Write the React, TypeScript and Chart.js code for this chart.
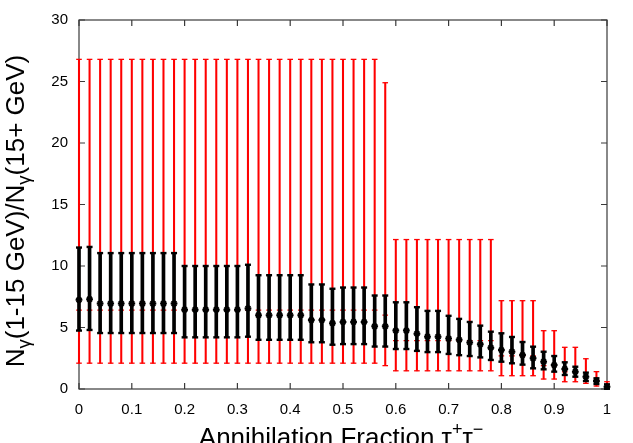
import React, { useEffect, useRef } from "react";
import { Chart, registerables } from "chart.js";

Chart.register(...registerables);

const fractions = [
  0.0, 0.02, 0.04, 0.06, 0.08, 0.1, 0.12, 0.14, 0.16, 0.18,
  0.2, 0.22, 0.24, 0.26, 0.28, 0.3, 0.32, 0.34, 0.36, 0.38,
  0.4, 0.42, 0.44, 0.46, 0.48, 0.5, 0.52, 0.54, 0.56, 0.58,
  0.6, 0.62, 0.64, 0.66, 0.68, 0.7, 0.72, 0.74, 0.76, 0.78,
  0.8, 0.82, 0.84, 0.86, 0.88, 0.9, 0.92, 0.94, 0.96, 0.98, 1.0,
];

const blackCenter = [
  7.25, 7.3, 6.95, 6.95, 6.95, 6.95, 6.95, 6.95, 6.95, 6.95,
  6.45, 6.45, 6.45, 6.45, 6.45, 6.45, 6.55, 6.0, 6.0, 6.0,
  6.0, 6.0, 5.6, 5.6, 5.35, 5.45, 5.45, 5.45, 5.1, 5.1,
  4.75, 4.75, 4.5, 4.25, 4.25, 4.1, 4.0, 3.78, 3.63, 3.36,
  3.17, 3.03, 2.76, 2.49, 2.22, 1.95, 1.63, 1.41, 1.0, 0.65, 0.19,
];
const blackHigh = [
  11.5, 11.55, 11.05, 11.05, 11.05, 11.05, 11.05, 11.05, 11.05, 11.05,
  10.0, 10.0, 10.0, 10.0, 10.0, 10.0, 10.1, 9.25, 9.25, 9.25,
  9.25, 9.25, 8.5, 8.5, 8.15, 8.25, 8.25, 8.25, 7.6, 7.6,
  7.05, 7.05, 6.65, 6.35, 6.35, 5.95, 5.7, 5.45, 5.15, 4.66,
  4.53, 4.23, 3.82, 3.44, 3.03, 2.68, 2.17, 1.81, 1.33, 0.87, 0.38,
];
const blackLow = [
  4.75, 4.8, 4.55, 4.55, 4.55, 4.55, 4.55, 4.55, 4.55, 4.55,
  4.2, 4.2, 4.2, 4.2, 4.2, 4.2, 4.25, 4.0, 4.0, 4.0,
  4.0, 4.0, 3.8, 3.8, 3.6, 3.65, 3.65, 3.65, 3.45, 3.45,
  3.25, 3.25, 3.1, 3.0, 3.0, 2.85, 2.75, 2.68, 2.57, 2.36,
  2.22, 2.09, 1.98, 1.68, 1.6, 1.41, 1.14, 1.0, 0.65, 0.41, 0.02,
];

const redCenter = [
  6.42, 6.42, 6.42, 6.42, 6.42, 6.42, 6.42, 6.42, 6.42, 6.42,
  6.42, 6.42, 6.42, 6.42, 6.42, 6.42, 6.42, 6.42, 6.42, 6.42,
  6.42, 6.42, 6.42, 6.42, 6.42, 6.42, 6.42, 6.42, 6.42, 6.0,
  3.93, 3.93, 3.93, 3.93, 3.93, 3.93, 3.93, 3.93, 3.93, 3.93,
  2.7, 2.7, 2.7, 2.7, 1.9, 1.9, 1.4, 1.4, 1.0, 0.65, 0.2,
];
const redHigh = [
  26.8, 26.8, 26.8, 26.8, 26.8, 26.8, 26.8, 26.8, 26.8, 26.8,
  26.8, 26.8, 26.8, 26.8, 26.8, 26.8, 26.8, 26.8, 26.8, 26.8,
  26.8, 26.8, 26.8, 26.8, 26.8, 26.8, 26.8, 26.8, 26.8, 24.9,
  12.15, 12.15, 12.15, 12.15, 12.15, 12.15, 12.15, 12.15, 12.15, 12.15,
  7.18, 7.18, 7.18, 7.18, 4.74, 4.74, 3.39, 3.39, 2.46, 1.41, 0.59,
];
const redLow = [
  2.1, 2.1, 2.1, 2.1, 2.1, 2.1, 2.1, 2.1, 2.1, 2.1,
  2.1, 2.1, 2.1, 2.1, 2.1, 2.1, 2.1, 2.1, 2.1, 2.1,
  2.1, 2.1, 2.1, 2.1, 2.1, 2.1, 2.1, 2.1, 2.1, 1.9,
  1.48, 1.48, 1.48, 1.48, 1.48, 1.48, 1.48, 1.48, 1.48, 1.48,
  1.08, 1.08, 1.08, 1.08, 0.81, 0.81, 0.59, 0.59, 0.46, 0.24, 0.05,
];

const xTicks = [0, 0.1, 0.2, 0.3, 0.4, 0.5, 0.6, 0.7, 0.8, 0.9, 1];
const yTicks = [0, 5, 10, 15, 20, 25, 30];

const FONT = "'Liberation Sans', Arial, Helvetica, sans-serif";

type Part = { text: string; size: number; dy: number };

const yTitleParts: Part[] = [
  { text: "N", size: 26, dy: 0 },
  { text: "γ", size: 18.5, dy: 6 },
  { text: "(1-15 GeV)/N", size: 26, dy: 0 },
  { text: "γ", size: 18.5, dy: 6 },
  { text: "(15+ GeV)", size: 26, dy: 0 },
];
const xTitleParts: Part[] = [
  { text: "Annihilation Fraction τ", size: 26, dy: 0 },
  { text: "+", size: 18, dy: -11 },
  { text: "τ", size: 26, dy: 0 },
  { text: "−", size: 18, dy: -11 },
];

function drawRich(ctx: CanvasRenderingContext2D, parts: Part[]) {
  let total = 0;
  for (const p of parts) {
    ctx.font = `${p.size}px ${FONT}`;
    total += ctx.measureText(p.text).width;
  }
  let cx = -total / 2;
  ctx.textBaseline = "alphabetic";
  ctx.textAlign = "left";
  for (const p of parts) {
    ctx.font = `${p.size}px ${FONT}`;
    ctx.fillText(p.text, cx, p.dy);
    cx += ctx.measureText(p.text).width;
  }
}

const framePlugin = {
  id: "gnuplotFrame",
  beforeDatasetsDraw(chart: any) {
    const { ctx, chartArea: a, scales } = chart;
    const x = scales.x;
    const y = scales.y;
    ctx.save();
    ctx.strokeStyle = "#3a3a3a";
    ctx.lineWidth = 1.2;
    ctx.strokeRect(a.left, a.top, a.right - a.left, a.bottom - a.top);
    ctx.beginPath();
    for (const v of xTicks) {
      const px = x.getPixelForValue(v);
      ctx.moveTo(px, a.bottom);
      ctx.lineTo(px, a.bottom - 6);
      ctx.moveTo(px, a.top);
      ctx.lineTo(px, a.top + 6);
    }
    for (const v of yTicks) {
      const py = y.getPixelForValue(v);
      ctx.moveTo(a.left, py);
      ctx.lineTo(a.left + 6, py);
      ctx.moveTo(a.right, py);
      ctx.lineTo(a.right - 6, py);
    }
    ctx.stroke();
    ctx.restore();
  },
  afterDraw(chart: any) {
    const { ctx, chartArea: a } = chart;
    ctx.save();
    ctx.fillStyle = "#000";
    ctx.translate(24, 211);
    ctx.rotate(-Math.PI / 2);
    drawRich(ctx, yTitleParts);
    ctx.restore();
    ctx.save();
    ctx.fillStyle = "#000";
    ctx.translate((a.left + a.right) / 2 - 2, 446);
    drawRich(ctx, xTitleParts);
    ctx.restore();
  },
};

export default function App() {
  const ref = useRef<HTMLCanvasElement | null>(null);

  useEffect(() => {
    if (!ref.current) return;
    const pts = (arr: number[]) => fractions.map((x, i) => ({ x, y: arr[i] }));
    const range = (lo: number[], hi: number[]) =>
      fractions.map((x, i) => ({ x, y: [lo[i], hi[i]] }));

    const capDs = (arr: number[], color: string, r: number, w: number, order: number) => ({
      type: "line",
      data: pts(arr),
      showLine: false,
      pointStyle: "line",
      pointRadius: r,
      pointHoverRadius: r,
      pointBorderWidth: w,
      pointBorderColor: color,
      borderColor: color,
      backgroundColor: color,
      order,
      clip: false,
    });

    const chart = new Chart(ref.current, {
      type: "bar",
      data: {
        datasets: [
          {
            type: "line",
            data: pts(blackCenter),
            showLine: false,
            pointStyle: "star",
            pointRadius: 3.4,
            pointHoverRadius: 3.4,
            pointBorderWidth: 2,
            pointBorderColor: "#000",
            borderColor: "#000",
            backgroundColor: "#000",
            order: 0,
            clip: false,
          } as any,
          capDs(blackHigh, "#000", 3, 2.4, 0),
          capDs(blackLow, "#000", 3, 2.4, 0),
          {
            type: "bar",
            data: range(blackLow, blackHigh),
            backgroundColor: "#000",
            borderWidth: 0,
            barThickness: 3,
            grouped: false,
            order: 0,
            clip: false,
          } as any,
          {
            type: "line",
            data: pts(redCenter),
            showLine: false,
            pointStyle: "cross",
            pointRadius: 2.8,
            pointHoverRadius: 2.8,
            pointBorderWidth: 1.3,
            pointBorderColor: "#ff0000",
            borderColor: "#ff0000",
            backgroundColor: "#ff0000",
            order: 1,
            clip: false,
          } as any,
          capDs(redHigh, "#ff0000", 2.8, 1.3, 1),
          capDs(redLow, "#ff0000", 2.8, 1.3, 1),
          {
            type: "bar",
            data: range(redLow, redHigh),
            backgroundColor: "#ff0000",
            borderWidth: 0,
            barThickness: 1.4,
            grouped: false,
            order: 1,
            clip: false,
          } as any,
        ],
      },
      options: {
        animation: false,
        responsive: false,
        devicePixelRatio: 1,
        layout: { padding: { top: 20, right: 26, left: 0, bottom: 0 } },
        plugins: {
          legend: { display: false },
          tooltip: { enabled: false },
        },
        scales: {
          x: {
            type: "linear",
            min: 0,
            max: 1,
            offset: false,
            grid: { display: false, drawTicks: false, offset: false },
            border: { display: false },
            afterBuildTicks: (s: any) => {
              s.ticks = xTicks.map((v) => ({ value: v }));
            },
            afterFit: (s: any) => {
              s.height = 54;
            },
            ticks: {
              autoSkip: false,
              maxRotation: 0,
              padding: 12,
              color: "#000",
              font: { family: FONT, size: 15 },
              callback: (v: any) => String(v),
            },
          },
          y: {
            type: "linear",
            min: 0,
            max: 30,
            grid: { display: false, drawTicks: false },
            border: { display: false },
            afterBuildTicks: (s: any) => {
              s.ticks = yTicks.map((v) => ({ value: v }));
            },
            afterFit: (s: any) => {
              s.width = 79;
            },
            ticks: {
              padding: 11,
              color: "#000",
              font: { family: FONT, size: 15 },
              callback: (v: any) => String(v),
            },
          },
        },
      } as any,
      plugins: [framePlugin],
    });
    return () => chart.destroy();
  }, []);

  return (
    <div style={{ position: "absolute", left: 0, top: 0, width: 633, height: 443, background: "#fff" }}>
      <canvas ref={ref} width={633} height={443} style={{ display: "block" }} />
    </div>
  );
}
